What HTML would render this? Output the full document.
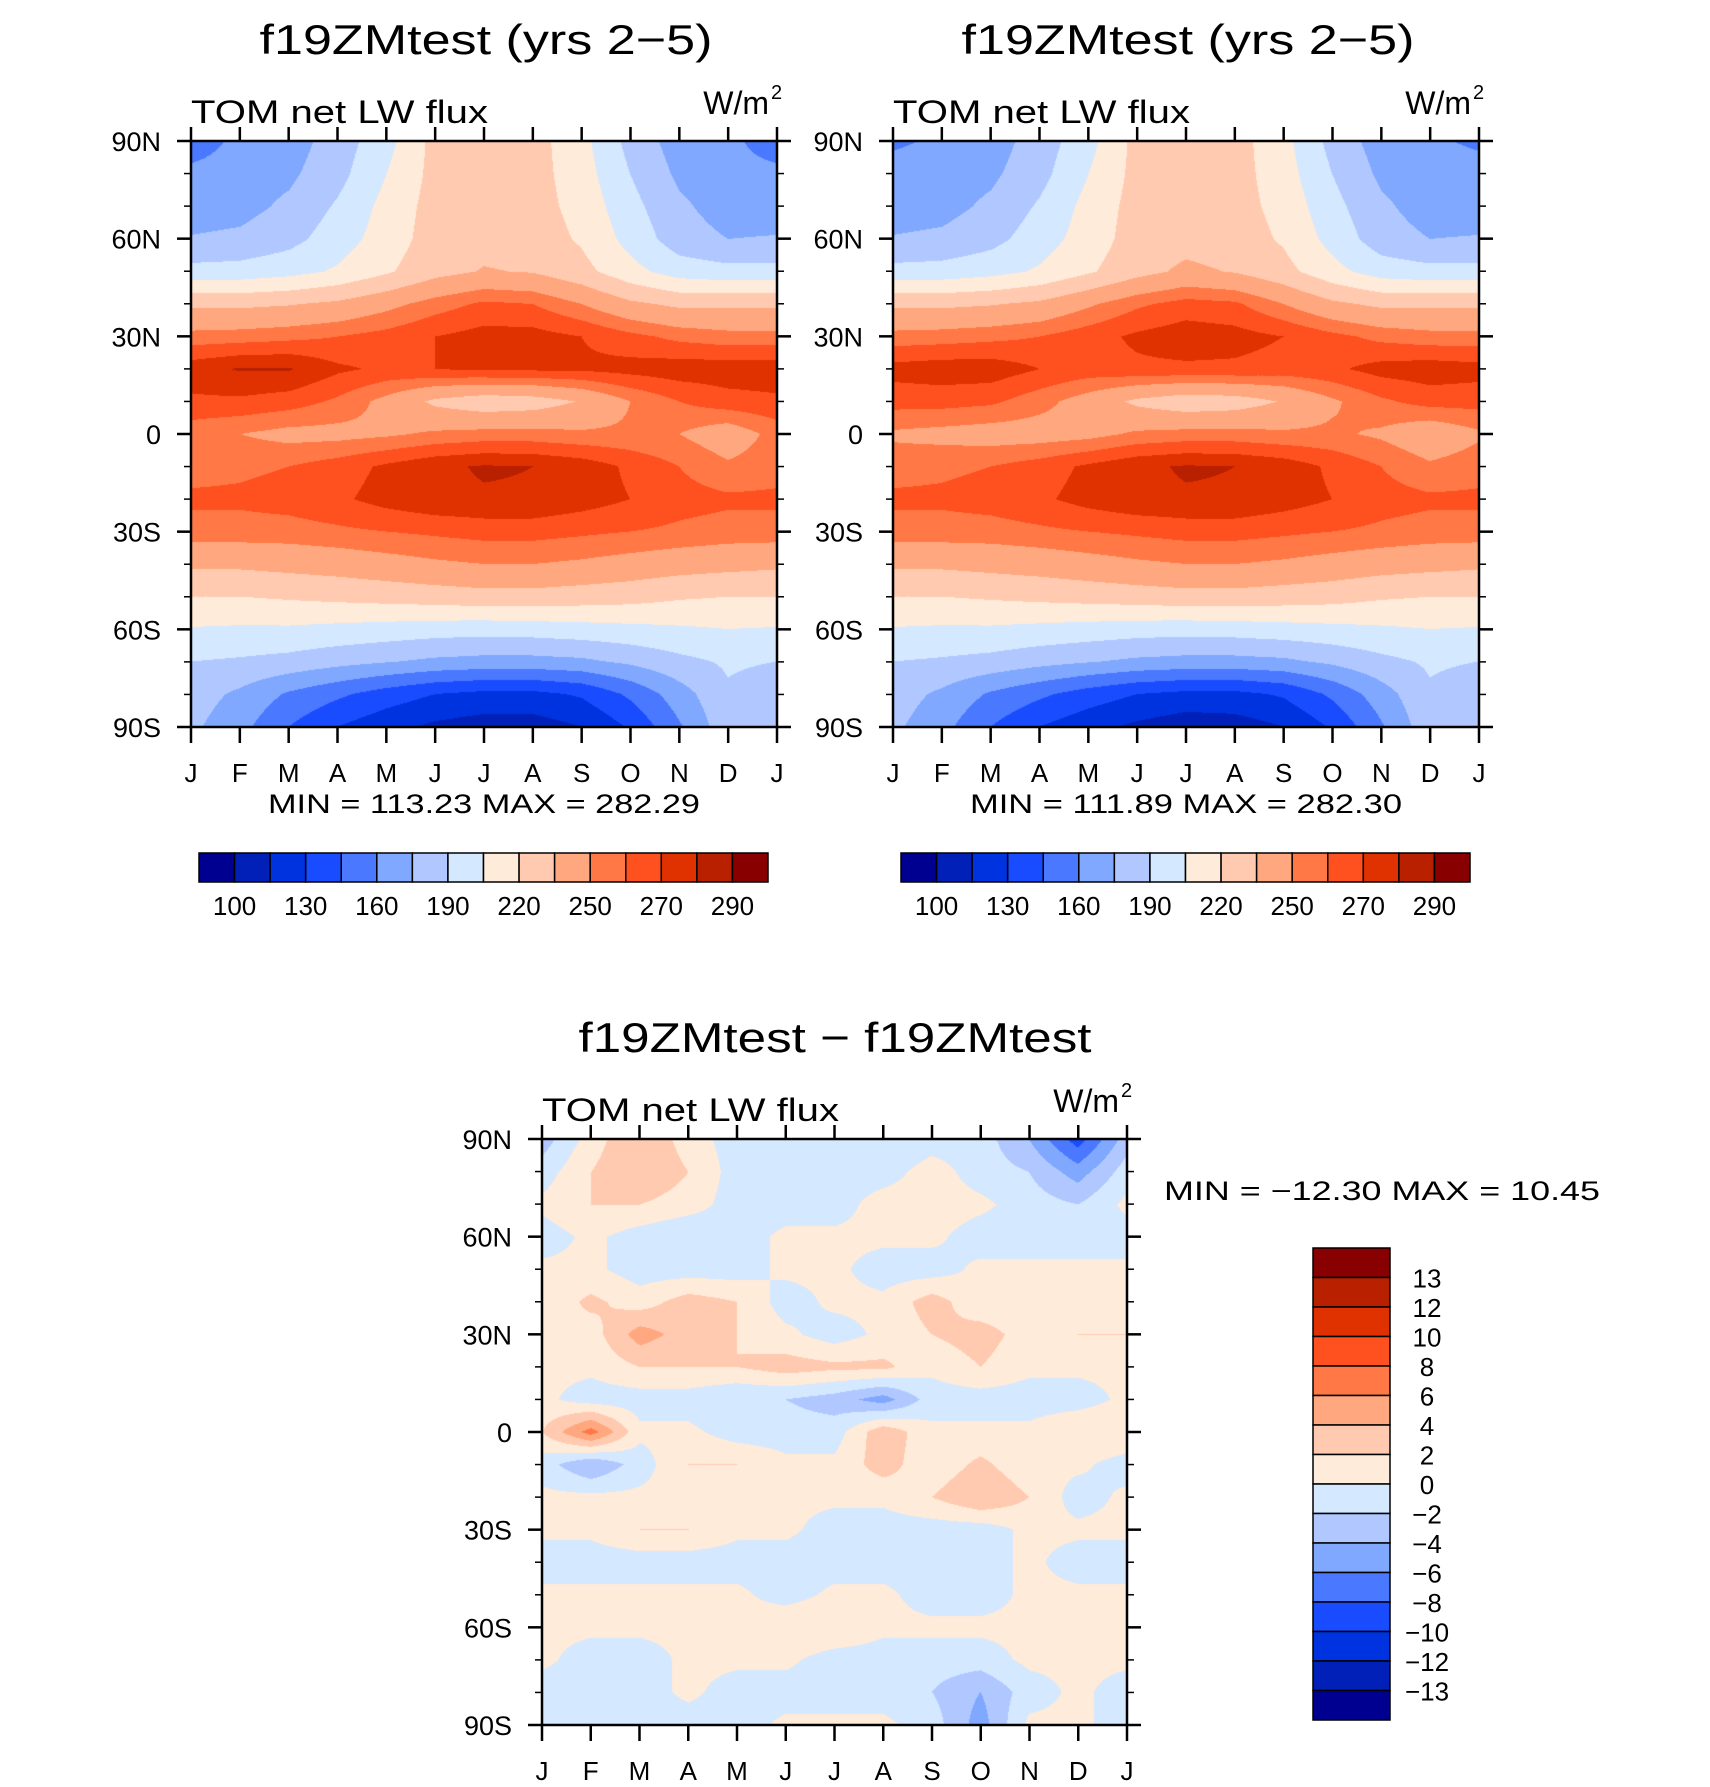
<!DOCTYPE html>
<html><head><meta charset="utf-8"><style>
html,body{margin:0;padding:0;background:#fff;}
#wrap{position:relative;width:1710px;height:1787px;overflow:hidden;}
canvas{position:absolute;}
svg{position:absolute;left:0;top:0;}
text{font-family:"Liberation Sans",sans-serif;fill:#000;}
</style></head><body>
<div id="wrap">
<canvas id="c1" width="586" height="586" style="left:191px;top:141px"></canvas>
<canvas id="c2" width="586" height="586" style="left:893px;top:141px"></canvas>
<canvas id="c3" width="585" height="586" style="left:542px;top:1139px"></canvas>
<svg id="ov" width="1710" height="1787"></svg>
</div>
<script>
// ---- data ----
const months = ["J","F","M","A","M","J","J","A","S","O","N","D","J"];
const latLabels = ["90N","60N","30N","0","30S","60S","90S"];
const absLevels = [100,115,130,145,160,175,190,205,220,235,250,260,270,280,290];
const absTickLabels = ["100","130","160","190","220","250","270","290"];
const diffLevels = [-13,-12,-10,-8,-6,-4,-2,0,2,4,6,8,10,12,13];
const diffTickLabels = ["13","12","10","8","6","4","2","0","\u22122","\u22124","\u22126","\u22128","\u221210","\u221212","\u221213"];
const colors = ["#000090","#0020b8","#0033e0","#1a4cff","#4a78ff","#80a8ff","#b0c8ff","#d4e8ff","#ffebd9","#ffcab0","#ffa880","#ff7846","#ff5020","#e03200","#b82000","#880000"];
// rows: 90N..90S every 10 deg; columns: Jan..Jan
const field1 = [
[150,165,168,182,200,225,228,226,210,185,168,165,150],
[165,168,172,185,205,225,228,226,212,190,172,166,165],
[168,170,178,192,210,226,228,226,215,195,178,168,168],
[176,178,185,198,212,227,230,228,218,200,182,175,176],
[195,196,200,207,218,230,236,234,225,210,198,195,195],
[232,232,234,238,246,255,262,260,250,238,232,232,232],
[254,255,257,260,264,270,274,274,270,263,257,254,254],
[276,281,281,272,268,270,272,272,272,274,276,276,276],
[268,268,265,258,246,232,226,228,236,250,260,266,268],
[254,250,246,246,248,252,254,254,252,252,250,242,254],
[256,258,260,265,272,278,281,280,276,268,260,252,256],
[262,262,264,268,274,278,279,279,275,270,264,262,262],
[256,256,256,258,260,262,264,264,262,260,258,256,256],
[238,238,240,242,245,248,250,250,248,245,242,240,238],
[220,220,222,224,226,228,230,230,228,226,222,220,220],
[204,203,203,201,199,197,196,197,199,201,203,205,204],
[190,188,185,180,176,172,170,170,172,178,186,192,190],
[182,172,158,148,138,130,126,126,132,148,168,188,182],
[178,165,145,130,120,112,108,108,115,132,158,185,178]];
const field2 = [
[158,162,168,182,200,225,228,226,210,185,168,162,158],
[165,168,172,185,205,225,228,226,212,190,172,166,165],
[168,170,178,192,210,226,228,226,215,195,178,168,168],
[176,178,185,198,212,227,230,228,218,200,182,175,176],
[195,196,200,207,218,230,238,234,225,210,198,195,195],
[232,232,234,238,248,258,264,262,250,238,232,232,232],
[254,255,257,260,266,272,276,274,270,263,257,254,254],
[274,276,276,270,266,268,268,268,266,268,274,276,274],
[264,264,262,254,244,232,226,228,236,248,258,264,264],
[248,246,244,244,246,252,254,254,252,252,248,240,248],
[256,258,260,265,272,278,281,280,276,268,260,252,256],
[262,262,264,268,274,278,279,279,275,270,264,262,262],
[256,256,256,258,260,262,264,264,262,260,258,256,256],
[238,238,240,242,245,248,250,250,248,245,242,240,238],
[220,220,222,224,226,228,230,230,228,226,222,220,220],
[204,203,203,201,199,197,196,197,199,201,203,205,204],
[190,188,185,180,176,172,170,170,172,178,186,192,190],
[182,172,158,148,138,130,126,126,132,148,168,188,182],
[178,165,145,130,120,112,106,108,115,132,158,185,178]];
const fieldDiff = [
[-3,1,4,1,-1,-1,-1,-2,-1,-1,-4,-9,-3],
[-1,2,4,2,-1,-2,-1,-1,1,-1,-2,-5,-1],
[0.5,2,2,1,-1,-1,-1,1,1,0.5,-1,-2,0.5],
[-1,0.5,-1,-2,-1,0.5,0.5,0.5,0.5,-1,-1,-1,-1],
[0.5,0.5,-1,-1,-1,0.5,0.5,-1,-1,0.5,0.5,0.5,0.5],
[0.5,2.5,1,3,2,-1,0.5,0.5,3,0.5,0.5,0.5,0.5],
[2,1,5,3,2,0.5,-1,0.5,2,3,1,2,2],
[0.5,0.5,2,2,2,3,2.5,2.5,0.5,2,0.5,0.5,0.5],
[0.5,-1,-1,-1,-2,-2,-3,-5,-1,-1,-1,-1,0.5],
[2,7,0.5,0.5,-1,-1,-1,3.5,0.5,0.5,0.5,2,2],
[-1,-4,-1,2,2,0.5,0.5,3,0.5,2.5,0.5,0.5,-1],
[0.5,0.5,0.5,0.5,0.5,0.5,0.5,0.5,2,4,2,-1,0.5],
[0.5,0.5,2,2,0.5,0.5,-1,-1,-1,-1,0.5,0.5,0.5],
[-1,-1,-1,-1,-1,-1,-1,-1,-1,-1,0.5,-1,-1],
[0.5,0.5,0.5,0.5,0.5,-1,0.5,0.5,-1,-1,0.5,0.5,0.5],
[0.5,0.5,0.5,0.5,0.5,2,2,0.5,0.5,0.5,0.5,0.5,0.5],
[0.5,-1,-1,0.5,0.5,0.5,-1,-1,-1,-1,0.5,0.5,0.5],
[-1,-1,-1,0.5,-1,-1,-1,-1,-2,-4,-1,0.5,-1],
[-1,-1,-1,-1,-1,0.5,0.5,0.5,-1,-5,0.5,0.5,-1]];

function hex(c){return [parseInt(c.substr(1,2),16),parseInt(c.substr(3,2),16),parseInt(c.substr(5,2),16)];}
const rgb = colors.map(hex);
function levelIndex(v,lv){let i=0;while(i<lv.length&&v>=lv[i])i++;return i;}
function drawField(id,field,lv){
  const cv=document.getElementById(id),ctx=cv.getContext('2d');
  const W=cv.width,H=cv.height,img=ctx.createImageData(W,H);
  const nr=field.length,nc=field[0].length;
  for(let y=0;y<H;y++){
    const fy=y/(H-1)*(nr-1),r0=Math.min(Math.floor(fy),nr-2),ty=fy-r0;
    for(let x=0;x<W;x++){
      const fx=x/(W-1)*(nc-1),c0=Math.min(Math.floor(fx),nc-2),tx=fx-c0;
      const v=(field[r0][c0]*(1-tx)+field[r0][c0+1]*tx)*(1-ty)+(field[r0+1][c0]*(1-tx)+field[r0+1][c0+1]*tx)*ty;
      const col=rgb[levelIndex(v,lv)],k=(y*W+x)*4;
      img.data[k]=col[0];img.data[k+1]=col[1];img.data[k+2]=col[2];img.data[k+3]=255;
    }
  }
  ctx.putImageData(img,0,0);
}
drawField('c1',field1,absLevels);
drawField('c2',field2,absLevels);
drawField('c3',fieldDiff,diffLevels);

const NS="http://www.w3.org/2000/svg",ov=document.getElementById('ov');
function el(tag,attrs,txt){const e=document.createElementNS(NS,tag);for(const k in attrs)e.setAttribute(k,attrs[k]);if(txt!==undefined)e.textContent=txt;ov.appendChild(e);return e;}
function txt(x,y,s,size,anchor,len,name){
  const t=el('text',{x:x,y:y,'font-size':size,'text-anchor':anchor||'start'},s);
  if(len){t.setAttribute('textLength',len);t.setAttribute('lengthAdjust','spacingAndGlyphs');}
  
  
  return t;
}
function panel(L,T,W,H,title,titleX,titleLen,p){
  const R=L+W,B=T+H;
  txt(titleX,T-87,title,42,'middle',titleLen,p+'-title');
  txt(L,T-18,"TOM net LW flux",32,'start',297,p+'-variable-label');
  txt(R-8,T-27,"W/m",32,'end',null,p+'-units');
  txt(R-6,T-42,"2",20,'start',null,p+'-units-exponent');
  const r=el('rect',{x:L,y:T,width:W,height:H,fill:'none',stroke:'#000','stroke-width':2.5});
  
  
  for(let i=0;i<months.length;i++){
    const x=L+W*i/(months.length-1);
    el('line',{x1:x,y1:B,x2:x,y2:B+16,stroke:'#000','stroke-width':2.5});
    el('line',{x1:x,y1:T,x2:x,y2:T-14,stroke:'#000','stroke-width':2.5});
    txt(x,B+55,months[i],26,'middle',null,p+'-month-label');
  }
  for(let j=0;j<=18;j++){
    const y=T+H*j/18,maj=j%3===0,len=maj?14:7;
    el('line',{x1:L,y1:y,x2:L-len,y2:y,stroke:'#000','stroke-width':maj?2.5:1.5});
    el('line',{x1:R,y1:y,x2:R+len,y2:y,stroke:'#000','stroke-width':maj?2.5:1.5});
    if(maj) txt(L-30,y+10,latLabels[j/3],27,'end',null,p+'-lat-label');
  }
}
function hbar(L,T,W,H,lv,labels,p){
  const n=colors.length,bw=W/n;
  for(let i=0;i<n;i++){
    const r=el('rect',{x:L+i*bw,y:T,width:bw,height:H,fill:colors[i],stroke:'#000','stroke-width':1.5});
    
    
  }
  for(let k=0;k<labels.length;k++){
    const x=L+(2*k+1)*bw;
    txt(x,T+62,labels[k],26,'middle',null,p+'-colorbar-label');
  }
}
panel(191,141,586,586,"f19ZMtest (yrs 2\u22125)",486,453,'plot1');
txt(484,813,"MIN = 113.23 MAX = 282.29",27,'middle',432,'plot1-minmax');
hbar(199,853,569,29,absLevels,absTickLabels,'plot1');
panel(893,141,586,586,"f19ZMtest (yrs 2\u22125)",1188,453,'plot2');
txt(1186,813,"MIN = 111.89 MAX = 282.30",27,'middle',432,'plot2-minmax');
hbar(901,853,569,29,absLevels,absTickLabels,'plot2');
panel(542,1139,585,586,"f19ZMtest \u2212 f19ZMtest",835,513,'diff');
txt(1164,1200,"MIN = \u221212.30 MAX =   10.45",27,'start',436,'diff-minmax');
// vertical colorbar
(function(){
  const L=1313,T=1248,W=77,H=472,n=colors.length,bh=H/n;
  for(let i=0;i<n;i++){
    const r=el('rect',{x:L,y:T+i*bh,width:W,height:bh,fill:colors[n-1-i],stroke:'#000','stroke-width':1.5});
    
    
  }
  for(let k=0;k<diffTickLabels.length;k++){
    txt(1427,T+(k+1)*bh+10,diffTickLabels[k],26,'middle',null,'diff-colorbar-label');
  }
})();
</script>
</body></html>
